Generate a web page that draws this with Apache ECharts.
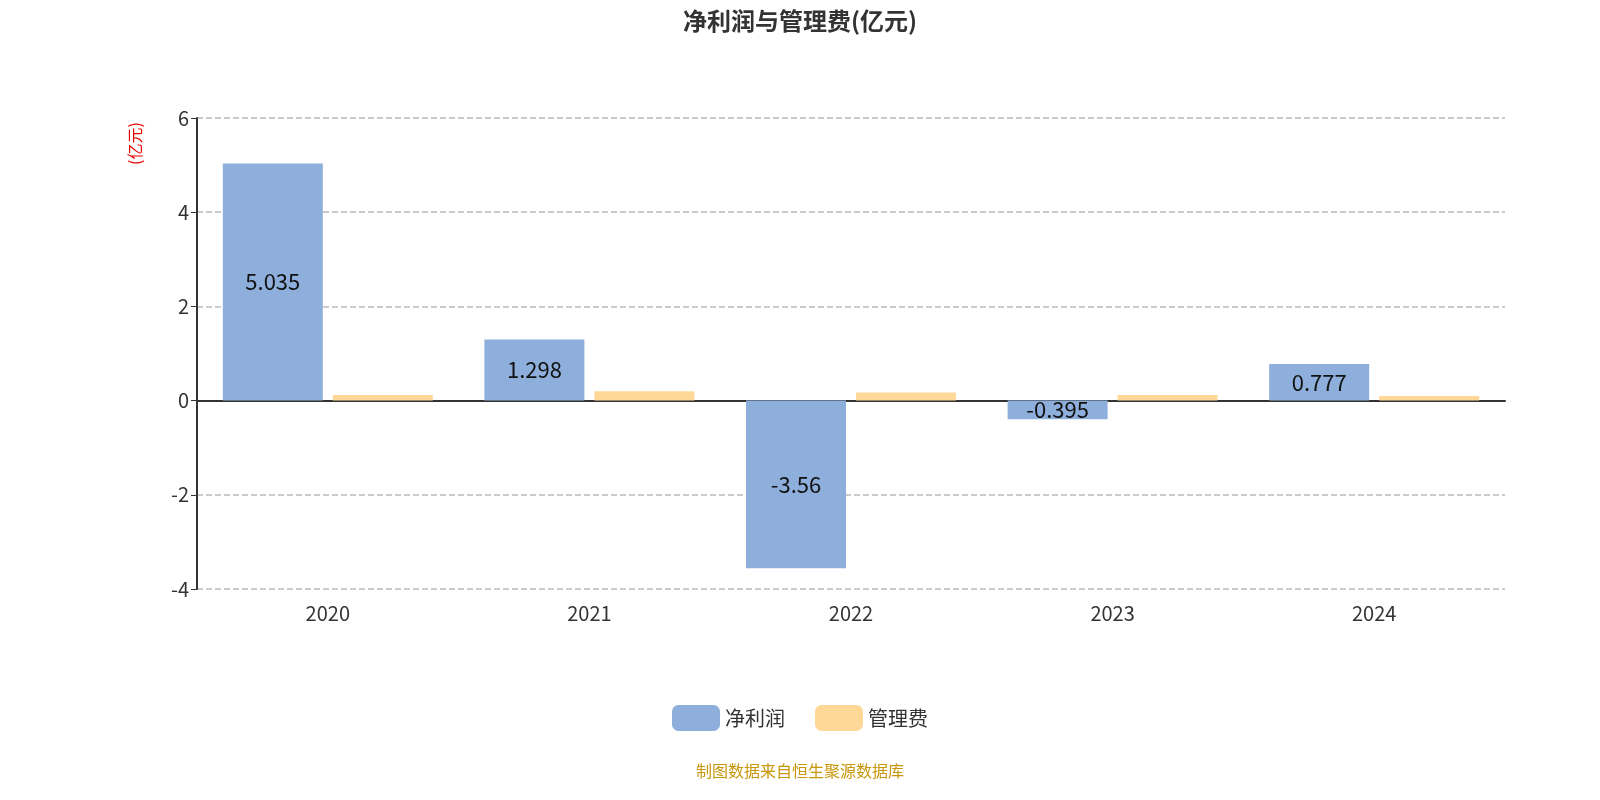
<!DOCTYPE html><html><head><meta charset="utf-8"><script src="https://cdn.jsdelivr.net/npm/echarts@6/dist/echarts.min.js"></script></head><body style="margin:0"><div id="c" style="width:1600px;height:800px"></div><script>
const years=['2020','2021','2022','2023','2024'];
const netProfit=[5.035,1.298,-3.56,-0.395,0.777];
const mgmtFee=[0.12,0.2,0.17,0.12,0.1];
const yTicks={min:-4,max:6,interval:2};
const c=echarts.init(document.getElementById('c'));
const font='"Noto Sans CJK SC","Noto Sans",sans-serif';
c.setOption({
textStyle:{fontFamily:font},
title:{text:'净利润与管理费(亿元)',left:'center',top:4,textStyle:{fontSize:24,fontWeight:'bold',color:'#333',fontFamily:font}},
grid:{left:197,right:95,top:118,bottom:211},
legend:{bottom:64,itemWidth:48,itemHeight:26,itemGap:30,textStyle:{fontSize:20,color:'#333'},data:['净利润','管理费']},
graphic:[{type:'text',left:'center',top:763,style:{text:'制图数据来自恒生聚源数据库',fill:'#c8960a',font:'16px '+font}},
{type:'text',x:127,y:165,rotation:Math.PI/2,style:{text:'(亿元)',fill:'#e00',font:'16px '+font}}],
xAxis:{type:'category',data:years,axisLine:{lineStyle:{color:'#333',width:2}},axisTick:{length:6,lineStyle:{color:'#333'}},axisLabel:{fontSize:20,color:'#333',margin:14}},
yAxis:{type:'value',min:yTicks.min,max:yTicks.max,interval:yTicks.interval,axisLine:{show:true,lineStyle:{color:'#333',width:2}},axisTick:{show:true,length:6},axisLabel:{fontSize:20,color:'#333'},splitLine:{lineStyle:{type:'dashed',color:'#bbb',width:1.5}}},
series:[{name:'净利润',type:'bar',data:netProfit,barWidth:100,barGap:'10%',itemStyle:{color:'#8eaedb'},label:{show:true,position:'inside',fontSize:22,color:'#111'}},
{name:'管理费',type:'bar',data:mgmtFee,barWidth:100,itemStyle:{color:'#ffd897'}}]
});
</script></body></html>
